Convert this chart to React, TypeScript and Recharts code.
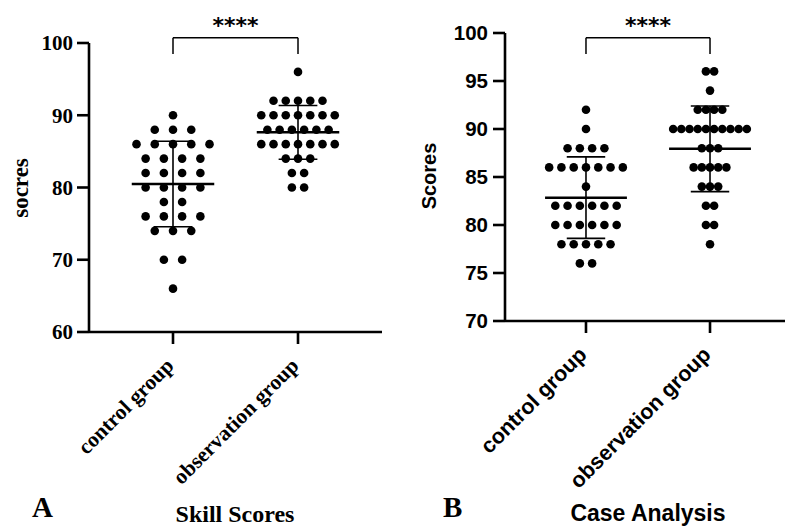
import React from 'react';
import { ScatterChart, Scatter, XAxis, YAxis, ReferenceLine } from 'recharts';

// ---------- data ----------
const groups = ['control group', 'observation group'];

const skillControl = [
  90, 88, 88, 88, 86, 86, 86, 86, 86, 84, 84, 84, 84, 82, 82, 82, 82,
  80, 80, 80, 80, 78, 78, 76, 76, 76, 76, 74, 74, 74, 70, 70, 66,
];
const skillObservation = [
  96, 92, 92, 92, 92, 92, 90, 90, 90, 90, 90, 90, 90, 88, 88, 88, 88, 88, 88,
  86, 86, 86, 86, 86, 86, 86, 84, 84, 84, 82, 82, 80, 80,
];
const caseControl = [
  92, 90, 88, 88, 88, 88, 86, 86, 86, 86, 86, 86, 86, 84, 82, 82, 82, 82, 82, 82,
  80, 80, 80, 80, 80, 80, 78, 78, 78, 78, 78, 76, 76,
];
const caseObservation = [
  96, 96, 94, 92, 92, 92, 92, 90, 90, 90, 90, 90, 90, 90, 90, 90, 90,
  88, 88, 88, 86, 86, 86, 86, 86, 84, 84, 84, 82, 82, 80, 80, 78,
];

const skillTicks = [60, 70, 80, 90, 100];
const caseTicks = [70, 75, 80, 85, 90, 95, 100];

// ---------- helpers ----------
const W = 785;
const H = 527;
const SERIF = '"Liberation Serif", "Times New Roman", serif';
const SANS = '"Liberation Sans", Arial, sans-serif';

function swarm(values: number[], center: number, step: number) {
  const counts = new Map<number, number>();
  values.forEach((v) => counts.set(v, (counts.get(v) || 0) + 1));
  const seen = new Map<number, number>();
  return values.map((v) => {
    const n = counts.get(v) as number;
    const k = seen.get(v) || 0;
    seen.set(v, k + 1);
    return { x: center + (k - (n - 1) / 2) * step, y: v };
  });
}

function stats(values: number[]) {
  const m = values.reduce((a, b) => a + b, 0) / values.length;
  const v = values.reduce((a, b) => a + (b - m) * (b - m), 0) / (values.length - 1);
  return { mean: m, sd: Math.sqrt(v) };
}

const Dot = (p: any) => <circle cx={p.cx} cy={p.cy} r={4.3} fill="#000" />;

const makeXTick = (font: string, size: number) => (p: any) => {
  const idx = Math.round(p.payload.value) - 1;
  const x = p.x + 2;
  const y = p.y;
  return (
    <text
      x={x}
      y={y}
      transform={`rotate(-45 ${x} ${y})`}
      textAnchor="end"
      fontFamily={font}
      fontWeight="bold"
      fontSize={size}
      fill="#000"
    >
      {groups[idx]}
    </text>
  );
};

interface PanelCfg {
  offsetLeft: number;
  width: number;
  margin: { top: number; right: number; bottom: number; left: number };
  xDomain: [number, number];
  yDomain: [number, number];
  yTicks: number[];
  values: number[][];
  steps: number[];
  font: string;
  xFontSize: number;
  yFontSize: number;
  tickMargin: number;
  bracketTop: number;
  bracketDrop: number;
}

function Panel({ cfg }: { cfg: PanelCfg }) {
  const XTick = makeXTick(cfg.font, cfg.xFontSize);
  const series = cfg.values.map((vals, i) => swarm(vals, i + 1, cfg.steps[i]));
  const st = cfg.values.map(stats);
  const half = 0.33;
  const cap = 0.155;
  return (
    <div style={{ position: 'absolute', left: cfg.offsetLeft, top: 0 }}>
      <ScatterChart width={cfg.width} height={H} margin={cfg.margin}>
        <XAxis
          type="number"
          dataKey="x"
          domain={cfg.xDomain}
          ticks={[1, 2]}
          interval={0}
          allowDataOverflow
          height={60}
          tickSize={12}
          tickMargin={23}
          axisLine={{ stroke: '#000', strokeWidth: 2.6 }}
          tickLine={{ stroke: '#000', strokeWidth: 2.6 }}
          tick={XTick}
        />
        <YAxis
          type="number"
          dataKey="y"
          domain={cfg.yDomain}
          ticks={cfg.yTicks}
          interval={0}
          allowDataOverflow
          width={60}
          tickSize={12}
          tickMargin={cfg.tickMargin}
          axisLine={{ stroke: '#000', strokeWidth: 2.6 }}
          tickLine={{ stroke: '#000', strokeWidth: 2.6 }}
          tick={{ fill: '#000', fontSize: cfg.yFontSize, fontWeight: 'bold', fontFamily: cfg.font }}
        />
        {series.map((pts, i) => (
          <Scatter key={i} data={pts} isAnimationActive={false} shape={Dot} />
        ))}
        {st.map((s, i) => (
          <ReferenceLine
            key={'m' + i}
            segment={[
              { x: i + 1 - half, y: s.mean },
              { x: i + 1 + half, y: s.mean },
            ]}
            stroke="#000"
            strokeWidth={2.5}
            ifOverflow="visible"
          />
        ))}
        {st.map((s, i) => (
          <ReferenceLine
            key={'v' + i}
            segment={[
              { x: i + 1, y: s.mean - s.sd },
              { x: i + 1, y: s.mean + s.sd },
            ]}
            stroke="#000"
            strokeWidth={1.6}
            ifOverflow="visible"
          />
        ))}
        {st.map((s, i) => (
          <ReferenceLine
            key={'t' + i}
            segment={[
              { x: i + 1 - cap, y: s.mean + s.sd },
              { x: i + 1 + cap, y: s.mean + s.sd },
            ]}
            stroke="#000"
            strokeWidth={1.6}
            ifOverflow="visible"
          />
        ))}
        {st.map((s, i) => (
          <ReferenceLine
            key={'b' + i}
            segment={[
              { x: i + 1 - cap, y: s.mean - s.sd },
              { x: i + 1 + cap, y: s.mean - s.sd },
            ]}
            stroke="#000"
            strokeWidth={1.6}
            ifOverflow="visible"
          />
        ))}
        <ReferenceLine
          segment={[
            { x: 1, y: cfg.bracketTop },
            { x: 2, y: cfg.bracketTop },
          ]}
          stroke="#000"
          strokeWidth={1.5}
          ifOverflow="visible"
          label={{
            value: '****',
            position: 'top',
            offset: 5,
            fill: '#000',
            fontSize: 22,
            fontWeight: 'bold',
            fontFamily: '"DejaVu Sans", sans-serif',
          }}
        />
        <ReferenceLine
          segment={[
            { x: 1, y: cfg.bracketTop },
            { x: 1, y: cfg.bracketDrop },
          ]}
          stroke="#000"
          strokeWidth={1.5}
          ifOverflow="visible"
        />
        <ReferenceLine
          segment={[
            { x: 2, y: cfg.bracketTop },
            { x: 2, y: cfg.bracketDrop },
          ]}
          stroke="#000"
          strokeWidth={1.5}
          ifOverflow="visible"
        />
      </ScatterChart>
    </div>
  );
}

const leftCfg: PanelCfg = {
  offsetLeft: 0,
  width: 392,
  margin: { top: 43, right: 10, bottom: 135, left: 29 },
  xDomain: [0.328, 2.672],
  yDomain: [60, 100],
  yTicks: skillTicks,
  values: [skillControl, skillObservation],
  steps: [0.146, 0.098],
  font: SERIF,
  xFontSize: 21.5,
  yFontSize: 21,
  tickMargin: 4,
  bracketTop: 100.73,
  bracketDrop: 98.48,
};

const rightCfg: PanelCfg = {
  offsetLeft: 392,
  width: 399,
  margin: { top: 33, right: 0, bottom: 146, left: 53 },
  xDomain: [0.347, 2.653],
  yDomain: [70, 100],
  yTicks: caseTicks,
  values: [caseControl, caseObservation],
  steps: [0.099, 0.066],
  font: SANS,
  xFontSize: 21.5,
  yFontSize: 20.5,
  tickMargin: 5,
  bracketTop: 99.51,
  bracketDrop: 97.81,
};

export default function App() {
  return (
    <div
      style={{
        position: 'absolute',
        left: 0,
        top: 0,
        width: W,
        height: H,
        overflow: 'hidden',
        background: '#fff',
      }}
    >
      <Panel cfg={leftCfg} />
      <Panel cfg={rightCfg} />
      <svg
        width={W}
        height={H}
        style={{ position: 'absolute', left: 0, top: 0, pointerEvents: 'none' }}
      >
        <text
          transform="rotate(-90 28 188)"
          x={28}
          y={188}
          textAnchor="middle"
          fontFamily={SERIF}
          fontWeight="bold"
          fontSize={23}
          fill="#000"
        >
          socres
        </text>
        <text
          transform="rotate(-90 436 176)"
          x={436}
          y={176}
          textAnchor="middle"
          fontFamily={SANS}
          fontWeight="bold"
          fontSize={20}
          fill="#000"
        >
          Scores
        </text>
        <text x={32} y={517} fontFamily={SERIF} fontWeight="bold" fontSize={29} fill="#000">
          A
        </text>
        <text x={235} y={522} textAnchor="middle" fontFamily={SERIF} fontWeight="bold" fontSize={24} fill="#000">
          Skill Scores
        </text>
        <text x={443} y={517} fontFamily={SERIF} fontWeight="bold" fontSize={29} fill="#000">
          B
        </text>
        <text x={648} y={521} textAnchor="middle" fontFamily={SANS} fontWeight="bold" fontSize={23} fill="#000">
          Case Analysis
        </text>
      </svg>
    </div>
  );
}
